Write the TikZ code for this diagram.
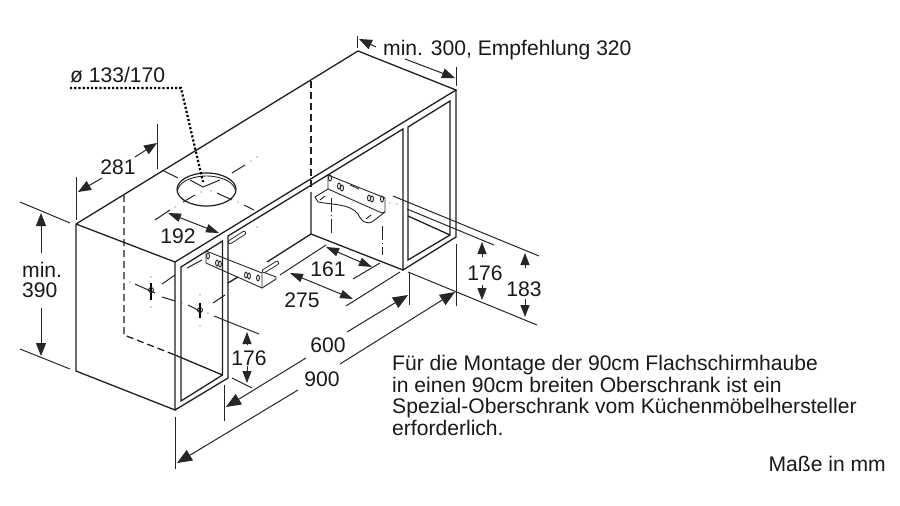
\documentclass[tikz,border=0pt]{standalone}
\usepackage{fontspec}
\setmainfont{Liberation Sans}
\usetikzlibrary{arrows.meta}

\begin{document}
\begin{tikzpicture}[
    x=1pt,y=-1pt,
    body/.style={line width=1.3pt, black!88, line join=miter},
    hidden/.style={body, dash pattern=on 7pt off 4pt},
    thinline/.style={line width=1pt, black!85},
    detail/.style={line width=.9pt, black!85},
    dimbig/.style={thinline, -{Triangle[length=15pt,width=12pt]}},
    dimmid/.style={thinline, -{Triangle[length=13pt,width=10pt]}},
    dimsmall/.style={thinline, -{Triangle[length=12pt,width=9pt]}},
    dimboth/.style={thinline, {Triangle[length=13pt,width=8.5pt]}-{Triangle[length=13pt,width=8.5pt]}},
    lbl/.style={font=\fontsize{21.1}{21.6}\selectfont, inner sep=0pt, text=black!90}
    ]
    \useasboundingbox (0, 0) rectangle (900, 506);
    \fill[white] (0, 0) rectangle (900, 506);

    % box
    \draw[body] (358, 51) -- (76, 224) -- (76, 371) -- (175, 410) -- (175, 262) -- (76, 224);
    \draw[body] (358, 51) -- (456, 90) -- (175, 262);
    \draw[body] (456, 90) -- (456, 237) -- (403, 270) -- (403, 129) -- (228, 236) -- (228, 378) -- (175, 410);
    \draw[body] (181, 401) -- (181, 267) -- (222.5, 241) -- (222.5, 375) -- cycle;
    \draw[body] (408, 260) -- (408, 127) -- (450, 101) -- (450, 235) -- cycle;
    \draw[body] (408, 216) -- (450, 235);
    \draw[body] (175, 355) -- (222.5, 375);
    \draw[body] (311, 192) -- (311, 234) -- (403, 270);
    \draw[body] (311, 234) -- (267, 262);
    \draw[body] (238, 277) -- (228, 283);
    \draw[hidden] (124, 195) -- (124, 335) -- (175, 355);
    \draw[hidden] (311, 81) -- (311, 187);

    % opening
    \draw[body, line width=1.2pt] (206.5, 189.5) ellipse [x radius=29.5, y radius=16.5];
    \draw[detail] (177.5, 191.5) arc [start angle=180, end angle=360, x radius=29, y radius=15.5];
    \draw[thinline] (162, 170) -- (178, 178);
    \draw[thinline] (190, 180) -- (203, 187) -- (220, 180);
    \draw[thinline] (217, 193) -- (232, 200);
    \draw[thinline] (244, 205) -- (254, 210);
    \draw[thinline] (155, 220) -- (170, 210);
    \draw[thinline] (183, 202) -- (195, 195);
    \draw[thinline] (232, 173) -- (245, 165);
    \foreach \pt in {(175,207),(201,192),(211,191),(226,177),(238,202),(251,161),(257,157)}
      \fill[black!70] \pt circle (.7);
    \draw[line width=2.2pt, dotted, black] (70, 88) -- (181, 88) -- (203, 182);

    % left bracket
    \draw[detail] (206, 251) -- (262, 273) -- (262, 288) -- (206, 263) -- cycle;
    \draw[detail] (262, 288) -- (276, 279) -- (276, 277) -- (263, 272);
    \foreach \pt in {(208,256),(217,263),(220,264),(246,275),(249,276),(258,278)}
      \draw[detail] \pt ellipse [x radius=1.4, y radius=3];
    \draw[detail, double, double distance=2.5pt, line cap=round] (230, 242) -- (244, 233);
    \draw[detail, double, double distance=2.5pt, line cap=round] (264, 271) -- (277, 263);
    \fill[black!70] (257, 227) circle (.7);

    % right bracket
    \draw[detail] (328, 175) -- (385, 198) -- (385, 212) -- (382, 213) -- (328, 189) -- cycle;
    \draw[detail] (328, 189) -- (315, 197) -- (318, 202) .. controls (335, 205) and (350, 204) .. (358, 214)
      .. controls (362, 223) and (368, 224) .. (372, 222) -- (385, 212);
    \draw[detail] (350, 185) -- (359, 189);
    \foreach \pt in {(339,186),(342,188),(369,198),(372,199),(330,178),(382,199)}
      \draw[detail] \pt ellipse [x radius=1.5, y radius=3];
    \draw[detail] (320, 200) -- (325, 196);
    \draw[detail] (366, 219) -- (371, 215);
    \draw[thinline, dash pattern=on 14pt off 3pt on 1pt off 3pt] (331, 198) -- (331, 235);
    \draw[thinline, dash pattern=on 14pt off 3pt on 1pt off 3pt] (382, 226) -- (382, 255);
    \foreach \pt in {(390,203),(397,204)}
      \fill[black!70] \pt circle (.7);

    % wall marks
    \draw[thinline] (135, 284) -- (155, 293);
    \draw[thinline] (162, 297) -- (175, 301);
    \draw[thinline] (188, 305) -- (202, 312);
    \draw[thinline] (214, 316) -- (259, 334);
    \draw[thinline] (162, 284) -- (175, 275);
    \draw[thinline] (187, 268) -- (202, 260);
    \draw[thinline] (213, 303) -- (225, 295);
    \draw[line width=1.2pt] (151, 283) -- (151, 300);
    \draw[line width=1.2pt] (200, 303) -- (200, 318);
    \draw[detail] (151, 290) circle (2.5);
    \draw[detail] (200, 310) circle (2.5);
    \foreach \pt in {(151,277),(151,307),(130,282),(182,303),(208,313),(200,326),(200,295)}
      \fill[black!70] \pt circle (.7);

    % extension lines
    \draw[thinline] (76, 177) -- (76, 220);
    \draw[thinline] (157.5, 124) -- (157.5, 169);
    \draw[thinline] (20, 202) -- (70, 223);
    \draw[thinline] (20, 349) -- (70, 369);
    \draw[thinline] (175, 417) -- (175, 469);
    \draw[thinline] (224, 385) -- (224, 421);
    \draw[thinline] (232, 378) -- (252, 388);
    \draw[thinline] (409, 272) -- (409, 305);
    \draw[thinline] (456, 244) -- (456, 306);
    \draw[thinline] (408, 272) -- (537, 325);
    \draw[thinline] (407, 209) -- (494, 245);
    \draw[thinline] (393, 196) -- (539, 256);
    \draw[thinline] (326, 245) -- (280, 275);
    \draw[thinline] (380, 263) -- (353, 279);
    \draw[thinline] (400, 272) -- (346, 306);
    \draw[thinline] (357.5, 36) -- (357.5, 48);
    \draw[thinline] (456.5, 67) -- (456.5, 86);

    % dimensions
    \draw[dimmid] (102, 178) -- (78, 192);
    \draw[dimmid] (135, 157) -- (157, 143);
    \draw[dimboth] (168, 213) -- (219, 233);
    \draw[dimmid] (41, 253) -- (41, 213);
    \draw[dimmid] (41, 308) -- (41, 356);
    \draw[dimboth] (326, 247) -- (372, 267);
    \draw[dimboth] (290, 273) -- (353, 299);
    \draw[dimsmall] (247, 345) -- (247, 332);
    \draw[dimsmall] (247, 366) -- (247, 383);
    \draw[dimsmall] (482, 257) -- (482, 242);
    \draw[dimsmall] (482, 285) -- (482, 300);
    \draw[dimsmall] (525, 268) -- (525, 253);
    \draw[dimsmall] (525, 299) -- (525, 317);
    \draw[dimbig] (306, 358) -- (226, 407);
    \draw[dimbig] (347, 332) -- (408, 295);
    \draw[dimbig] (298, 390) -- (177, 463);
    \draw[dimbig] (340, 364) -- (455, 292);
    \draw[dimmid] (376, 47) -- (359, 39);
    \draw[dimmid] (405, 59) -- (455, 78);

    % labels
    \node[lbl, anchor=west] (rec) at (383, 50) {min. 300, Empfehlung 320};
    \node[lbl, anchor=west] (dia) at (70, 75) {ø 133/170};
    \node[lbl] (d281) at (118, 167) {281};
    \node[lbl] (d192) at (178, 236) {192};
    \node[lbl] (d161) at (328, 269) {161};
    \node[lbl] (d275) at (302, 300) {275};
    \node[lbl] (d176a) at (249, 358) {176};
    \node[lbl] (d176b) at (485, 273) {176};
    \node[lbl] (d183) at (524, 289) {183};
    \node[lbl] (d600) at (328, 345) {600};
    \node[lbl] (d900) at (322, 379) {900};
    \node[lbl, anchor=north west, align=left] (dmin) at (22, 262) {min.\\[-2pt]390};
    \node[lbl, anchor=north west, align=left] (note) at (392, 355)
      {Für die Montage der 90cm Flachschirmhaube\\
       in einen 90cm breiten Oberschrank ist ein\\
       Spezial-Oberschrank vom Küchenmöbelhersteller\\
       erforderlich.};
    \node[lbl, anchor=east] (unit) at (886, 464) {Maße in mm};
\end{tikzpicture}
\end{document}
